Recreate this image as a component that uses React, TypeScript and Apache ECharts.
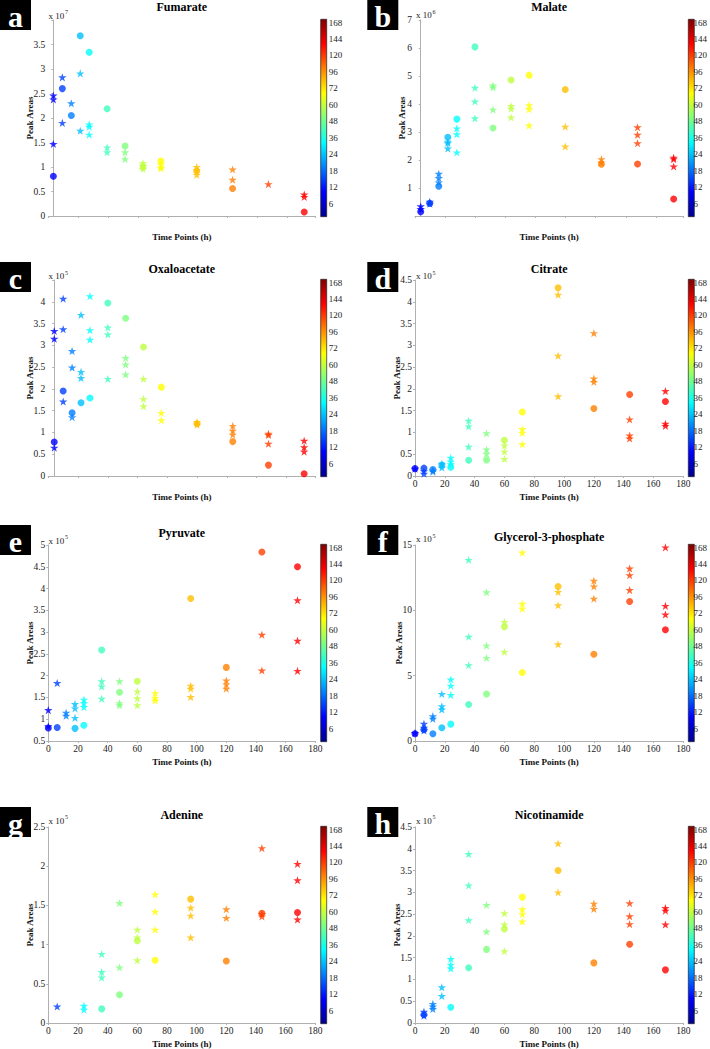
import React, { useEffect, useRef } from 'react';
import * as echarts from 'echarts';

const FONT = '"Liberation Serif", "Times New Roman", Times, serif';

const timePoints = [0, 6, 12, 18, 24, 36, 48, 60, 72, 96, 120, 144, 168];
const colorbarLabels = ['6', '12', '18', '24', '36', '48', '60', '72', '96', '120', '144', '168'];

// ---- data: [time (h), peak area (scaled by exponent)] ----
const fumarateCircles = [[0, 0.81], [6, 2.6], [12, 2.05], [18, 3.68], [24, 3.34], [36, 2.19], [48, 1.43], [60, 1.0], [72, 1.12], [96, 0.92], [120, 0.56], [168, 0.08]];
const fumarateStars = [[0, 2.46], [0, 2.38], [0, 1.47], [6, 2.83], [6, 1.9], [12, 2.3], [18, 2.91], [18, 1.74], [24, 1.87], [24, 1.82], [24, 1.66], [36, 1.4], [36, 1.3], [48, 1.3], [48, 1.16], [60, 1.08], [60, 1.03], [60, 0.96], [72, 1.05], [72, 0.99], [72, 0.97], [96, 1.0], [96, 0.93], [96, 0.84], [120, 0.95], [120, 0.74], [144, 0.65], [168, 0.44], [168, 0.39]];

const malateCircles = [[0, 0.15], [6, 0.45], [12, 1.06], [18, 2.81], [24, 3.46], [36, 6.04], [48, 3.14], [60, 4.86], [72, 5.03], [96, 4.52], [120, 1.85], [144, 1.86], [168, 0.61]];
const malateStars = [[0, 0.35], [0, 0.25], [6, 0.51], [6, 0.44], [12, 1.51], [12, 1.36], [12, 1.2], [18, 2.65], [18, 2.6], [18, 2.41], [24, 3.13], [24, 2.92], [24, 2.27], [36, 4.58], [36, 4.09], [36, 3.49], [48, 4.66], [48, 4.59], [48, 3.8], [60, 3.93], [60, 3.83], [60, 3.52], [72, 3.96], [72, 3.81], [72, 3.23], [96, 3.19], [96, 2.48], [120, 2.03], [120, 1.91], [144, 3.17], [144, 2.9], [144, 2.6], [168, 2.08], [168, 2.03], [168, 1.77]];

const oxaloacetateCircles = [[0, 0.78], [6, 1.95], [12, 1.45], [18, 1.68], [24, 1.79], [36, 3.97], [48, 3.62], [60, 2.96], [72, 2.04], [96, 1.2], [120, 0.79], [144, 0.25], [168, 0.05]];
const oxaloacetateStars = [[0, 3.33], [0, 3.15], [0, 0.65], [6, 4.07], [6, 3.37], [6, 1.71], [12, 2.87], [12, 2.49], [12, 1.35], [18, 3.7], [18, 2.39], [18, 2.25], [24, 4.13], [24, 3.35], [24, 3.13], [36, 3.41], [36, 3.25], [36, 2.23], [48, 2.71], [48, 2.56], [48, 2.33], [60, 2.23], [60, 1.77], [60, 1.6], [72, 1.45], [72, 1.28], [96, 1.24], [96, 1.18], [120, 1.15], [120, 1.04], [120, 0.95], [144, 0.97], [144, 0.94], [144, 0.74], [168, 0.81], [168, 0.66], [168, 0.56]];

const citrateCircles = [[0, 0.17], [6, 0.18], [12, 0.15], [18, 0.25], [24, 0.2], [36, 0.36], [48, 0.37], [60, 0.82], [72, 1.47], [96, 4.32], [120, 1.55], [144, 1.87], [168, 1.71]];
const citrateStars = [[0, 0.17], [6, 0.11], [6, 0.05], [12, 0.13], [12, 0.1], [18, 0.28], [18, 0.19], [24, 0.42], [24, 0.33], [24, 0.27], [36, 1.27], [36, 1.14], [36, 0.67], [48, 0.98], [48, 0.61], [48, 0.51], [60, 0.7], [60, 0.56], [60, 0.39], [72, 1.08], [72, 0.99], [72, 0.73], [96, 4.16], [96, 2.76], [96, 1.83], [120, 3.28], [120, 2.24], [120, 2.16], [144, 1.3], [144, 0.93], [144, 0.86], [168, 1.95], [168, 1.2], [168, 1.15]];

const pyruvateCircles = [[0, 0.8], [6, 0.81], [18, 0.79], [24, 0.86], [36, 2.59], [48, 1.62], [60, 1.87], [96, 3.77], [120, 2.19], [144, 4.84], [168, 4.5]];
const pyruvateStars = [[0, 1.21], [0, 0.84], [6, 1.83], [12, 1.15], [12, 1.08], [18, 1.35], [18, 1.25], [18, 1.03], [24, 1.45], [24, 1.37], [24, 1.28], [36, 1.87], [36, 1.75], [36, 1.47], [48, 1.87], [48, 1.37], [48, 1.32], [60, 1.64], [60, 1.48], [60, 1.32], [72, 1.6], [72, 1.49], [72, 1.43], [96, 1.77], [96, 1.7], [96, 1.51], [120, 1.89], [120, 1.8], [120, 1.7], [144, 2.94], [144, 2.12], [168, 3.73], [168, 2.8], [168, 2.11]];

const glycerolCircles = [[0, 0.56], [6, 0.86], [12, 0.56], [18, 1.01], [24, 1.29], [36, 2.79], [48, 3.6], [60, 8.74], [72, 5.24], [96, 11.83], [120, 6.64], [144, 10.67], [168, 8.51]];
const glycerolStars = [[0, 0.61], [6, 1.32], [6, 1.01], [6, 0.81], [12, 1.9], [12, 1.7], [18, 3.6], [18, 2.66], [18, 2.41], [24, 4.71], [24, 4.23], [24, 3.52], [36, 13.86], [36, 7.98], [36, 5.8], [48, 11.38], [48, 7.3], [48, 6.36], [60, 9.12], [60, 6.82], [72, 14.42], [72, 10.51], [72, 10.13], [96, 11.4], [96, 10.39], [96, 7.4], [120, 12.26], [120, 11.83], [120, 10.89], [144, 13.2], [144, 12.69], [144, 11.55], [168, 14.82], [168, 10.34], [168, 9.68]];

const adenineCircles = [[36, 0.18], [48, 0.36], [60, 1.05], [72, 0.8], [96, 1.58], [120, 0.79], [144, 1.4], [168, 1.41]];
const adenineStars = [[6, 0.21], [24, 0.22], [24, 0.17], [36, 0.88], [36, 0.65], [36, 0.58], [48, 1.53], [48, 0.71], [60, 1.19], [60, 1.09], [60, 0.8], [72, 1.64], [72, 1.42], [72, 1.19], [96, 1.47], [96, 1.37], [96, 1.09], [120, 1.45], [120, 1.34], [144, 2.23], [144, 1.39], [144, 1.36], [168, 2.03], [168, 1.82], [168, 1.32]];

const nicotinamideCircles = [[6, 0.19], [24, 0.36], [36, 1.27], [48, 1.69], [60, 2.16], [72, 2.89], [96, 3.5], [120, 1.38], [144, 1.81], [168, 1.22]];
const nicotinamideStars = [[6, 0.26], [6, 0.17], [12, 0.44], [12, 0.38], [12, 0.32], [18, 0.82], [18, 0.62], [24, 1.47], [24, 1.34], [24, 1.25], [36, 3.88], [36, 3.16], [36, 2.36], [48, 2.71], [48, 2.1], [60, 2.52], [60, 2.26], [60, 1.65], [72, 2.61], [72, 2.5], [72, 2.33], [96, 4.12], [96, 3.0], [120, 2.74], [120, 2.62], [144, 2.75], [144, 2.45], [144, 2.27], [168, 2.64], [168, 2.58], [168, 2.26]];

// ---- panel definitions ----
const panels = [
  { letter: 'a', title: 'Fumarate', exp: '7', col: 0, row: 0, circles: fumarateCircles, stars: fumarateStars, xMin: -3.4, xMax: 175.4, yMin: 0, yMax: 4, yStep: 0.5, hideY: [4], titleY: 7.3, expY: 15.7, nameGap: 13.5 },
  { letter: 'b', title: 'Malate', exp: '6', col: 1, row: 0, circles: malateCircles, stars: malateStars, xMin: -3.8, xMax: 174.4, yMin: 0, yMax: 7, yStep: 1, hideY: [0], titleY: 7.3, expY: 15, nameGap: 9 },
  { letter: 'c', title: 'Oxaloacetate', exp: '5', col: 0, row: 1, circles: oxaloacetateCircles, stars: oxaloacetateStars, xMin: -4, xMax: 175.5, yMin: 0, yMax: 4.5, yStep: 0.5, hideY: [4.5], titleY: 8.5, expY: 16, nameGap: 13.5 },
  { letter: 'd', title: 'Citrate', exp: '5', col: 1, row: 1, circles: citrateCircles, stars: citrateStars, xMin: 0, xMax: 180, yMin: 0, yMax: 4.5, yStep: 0.5, hideY: [], titleY: 8.5, expY: 16, nameGap: 14 },
  { letter: 'e', title: 'Pyruvate', exp: '5', col: 0, row: 2, circles: pyruvateCircles, stars: pyruvateStars, xMin: 0, xMax: 180, yMin: 0.5, yMax: 5, yStep: 0.5, hideY: [], titleY: 8.3, expY: 15.7, nameGap: 13.5 },
  { letter: 'f', title: 'Glycerol-3-phosphate', exp: '5', col: 1, row: 2, circles: glycerolCircles, stars: glycerolStars, xMin: 0, xMax: 180, yMin: 0, yMax: 15, yStep: 5, hideY: [], titleY: 11.5, expY: 14, nameGap: 12 },
  { letter: 'g', title: 'Adenine', exp: '5', col: 0, row: 3, circles: adenineCircles, stars: adenineStars, xMin: 0, xMax: 180, yMin: 0, yMax: 2.5, yStep: 0.5, hideY: [], titleY: 7.5, expY: 13.5, nameGap: 13.5 },
  { letter: 'h', title: 'Nicotinamide', exp: '5', col: 1, row: 3, circles: nicotinamideCircles, stars: nicotinamideStars, xMin: 0, xMax: 180, yMin: 0, yMax: 4.5, yStep: 0.5, hideY: [], titleY: 7.5, expY: 13.5, nameGap: 14 },
];

const rowY = [0, 260, 525, 807];
const letterTop = [0, 262, 525, 807];
const colLayout = [
  { x: 0, gridLeft: 48.3, gridW: 267, cbX: 320.7, lbX: 0, expX: 48.5 },
  { x: 355, gridLeft: 60, gridW: 268.3, cbX: 333.3, lbX: 12.3, expX: 61 },
];

const STAR = 'path://M0,-10L2.245,-3.09L9.511,-3.09L3.633,1.18L5.878,8.09L0,3.82L-5.878,8.09L-3.633,1.18L-9.511,-3.09L-2.245,-3.09Z';

function jet(t: number) {
  const i = timePoints.indexOf(t);
  const v = 0.125 + 0.0625 * i;
  const c = (k: number) => Math.round(255 * Math.max(0, Math.min(1, 1.5 - Math.abs(4 * v - k))));
  return `rgb(${c(3)},${c(2)},${c(1)})`;
}

function fmt(v: number, step: number, hide: number[]) {
  const r = Math.round(v * 1000) / 1000;
  if (hide.some((h) => Math.abs(h - r) < 1e-6)) return '';
  const q = r / step;
  if (Math.abs(q - Math.round(q)) > 1e-6) return '';
  return String(r);
}

function buildOption(p: any) {
  const L = colLayout[p.col];
  const off = Math.max(0, letterTop[p.row] - rowY[p.row]);
  const axisLine = { show: true, lineStyle: { color: '#b0b0b0', width: 1 } };
  const axisTick = { show: true, length: 2, lineStyle: { color: '#b0b0b0' } };
  const labelStyle = { fontFamily: FONT, fontSize: 9.5, color: '#222' };
  const nameStyle = { fontFamily: FONT, fontSize: 9, fontWeight: 'bold' as const, color: '#111' };
  const cbTop = 19.3;
  const cbH = 197.4;
  const band = cbH / 12;
  return {
    animation: false,
    grid: [
      { left: L.gridLeft, top: 20, width: L.gridW, height: 196 },
      { left: L.cbX, top: cbTop - 0.3 * band, width: 6, height: cbH },
    ],
    xAxis: [
      {
        type: 'value', gridIndex: 0, min: p.xMin, max: p.xMax, interval: 20,
        axisLine, axisTick, splitLine: { show: false },
        axisLabel: { ...labelStyle, margin: 3, formatter: (v: number) => fmt(v, 20, []) },
        name: 'Time Points (h)', nameLocation: 'middle', nameGap: 16, nameMoveOverlap: false, nameTextStyle: nameStyle,
      },
      { type: 'value', gridIndex: 1, show: false },
    ],
    yAxis: [
      {
        type: 'value', gridIndex: 0, min: p.yMin, max: p.yMax, interval: p.yStep,
        axisLine, axisTick, splitLine: { show: false },
        axisLabel: { ...labelStyle, margin: 3, formatter: (v: number) => fmt(v, p.yStep, p.hideY) },
        name: 'Peak Areas', nameLocation: 'middle', nameGap: p.nameGap, nameMoveOverlap: false, nameTextStyle: nameStyle,
      },
      {
        type: 'category', gridIndex: 1, data: colorbarLabels, position: 'right',
        axisLine: { show: false }, axisTick: { show: false }, splitLine: { show: false },
        axisLabel: { ...labelStyle, fontSize: 9, margin: 2 },
      },
    ],
    series: [
      {
        type: 'scatter', xAxisIndex: 0, yAxisIndex: 0, symbol: 'circle', symbolSize: 7,
        data: p.circles, itemStyle: { color: (q: any) => jet(q.data[0]) },
      },
      {
        type: 'scatter', xAxisIndex: 0, yAxisIndex: 0, symbol: STAR, symbolSize: [8.5, 8.1],
        data: p.stars, itemStyle: { color: (q: any) => jet(q.data[0]) },
      },
    ],
    graphic: [
      { type: 'rect', shape: { x: L.lbX, y: off, width: 31, height: 30 }, style: { fill: '#000' } },
      {
        type: 'text', x: L.lbX + 15.5, y: off + 16,
        style: { text: p.letter, fill: '#fff', font: `bold 30px ${FONT}`, textAlign: 'center', textVerticalAlign: 'middle', align: 'center', verticalAlign: 'middle' },
      },
      {
        type: 'text', x: L.gridLeft + L.gridW / 2, y: p.titleY,
        style: { text: p.title, fill: '#000', font: `bold 12px ${FONT}`, textAlign: 'center', textVerticalAlign: 'middle', align: 'center', verticalAlign: 'middle' },
      },
      {
        type: 'text', x: L.expX, y: p.expY,
        style: { text: 'x 10', fill: '#222', font: `9px ${FONT}`, textAlign: 'left', textVerticalAlign: 'middle', align: 'left', verticalAlign: 'middle' },
      },
      {
        type: 'text', x: L.expX + 16.5, y: p.expY - 3.5,
        style: { text: p.exp, fill: '#222', font: `6px ${FONT}`, textAlign: 'left', textVerticalAlign: 'middle', align: 'left', verticalAlign: 'middle' },
      },
      {
        type: 'rect', shape: { x: L.cbX, y: cbTop, width: 6, height: cbH },
        style: {
          fill: new echarts.graphic.LinearGradient(0, 0, 0, 1, [
            { offset: 0, color: '#800000' },
            { offset: 0.125, color: '#ff0000' },
            { offset: 0.375, color: '#ffff00' },
            { offset: 0.625, color: '#00ffff' },
            { offset: 0.875, color: '#0000ff' },
            { offset: 1, color: '#00008f' },
          ]),
          stroke: '#222', lineWidth: 0.7,
        },
      },
    ],
  };
}

function Panel({ p }: { p: any }) {
  const ref = useRef<HTMLDivElement>(null);
  useEffect(() => {
    const chart = echarts.init(ref.current as HTMLDivElement, null, { renderer: 'svg' });
    chart.setOption(buildOption(p) as any);
    return () => chart.dispose();
  }, [p]);
  const L = colLayout[p.col];
  return (
    <div
      ref={ref}
      style={{ position: 'absolute', left: L.x, top: rowY[p.row], width: 355, height: 262 }}
    />
  );
}

export default function App() {
  return (
    <div style={{ position: 'absolute', left: 0, top: 0, width: 710, height: 1049, overflow: 'hidden', background: '#fff' }}>
      {panels.map((p) => (
        <Panel key={p.letter} p={p} />
      ))}
    </div>
  );
}
